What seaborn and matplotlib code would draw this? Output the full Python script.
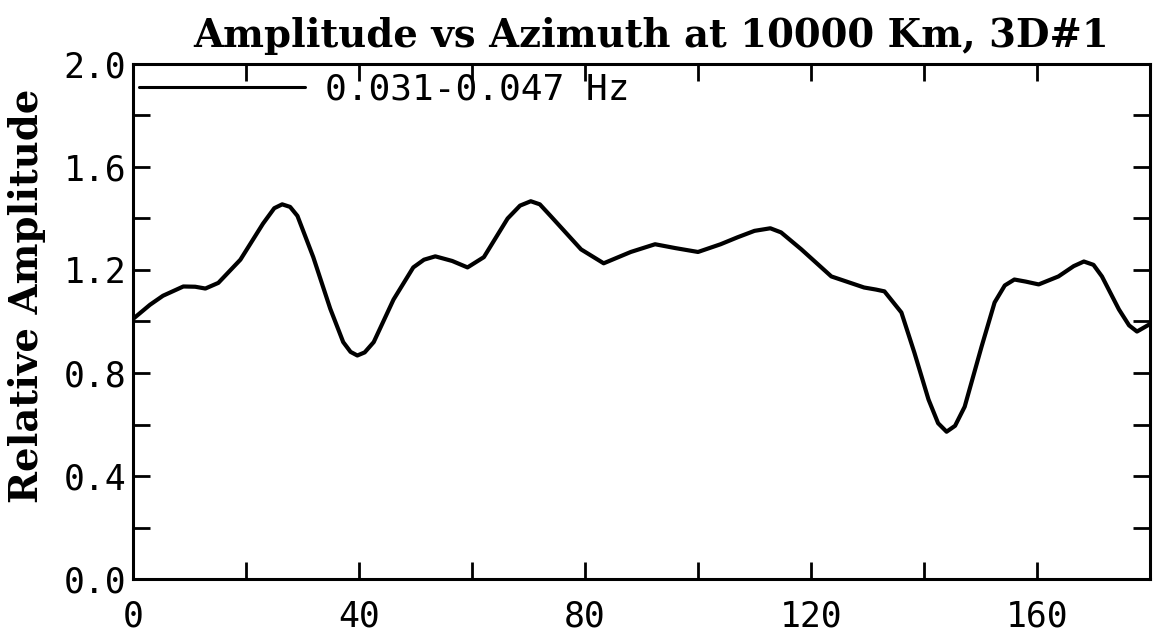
import matplotlib
matplotlib.use("Agg")
import matplotlib.pyplot as plt
from matplotlib.ticker import MultipleLocator
import seaborn as sns

# Azimuth (degrees) and relative amplitude along the curve
azimuth = [0, 3.0, 5.3, 8.9, 11.0, 12.8, 15.1, 19.0, 23.0, 25.0, 26.4, 27.8,
           29.1, 31.9, 34.9, 37.2, 38.5, 39.7, 41.0, 42.6, 46.1, 49.6, 51.5,
           53.5, 56.5, 59.2, 62.1, 66.3, 68.5, 70.4, 72.0, 73.9, 79.3, 83.3,
           88.1, 92.4, 96.0, 100.0, 104.0, 107.0, 110.0, 112.8, 114.7, 118.3,
           123.6, 129.4, 131.5, 133.0, 136.0, 138.3, 140.8, 142.5, 144.0,
           145.5, 147.2, 150.2, 152.5, 154.3, 156.0, 158.0, 160.3, 163.8,
           166.5, 168.3, 170.0, 171.5, 174.5, 176.3, 177.7, 180.0]
amplitude = [1.01, 1.065, 1.10, 1.136, 1.135, 1.128, 1.15, 1.24, 1.38, 1.44,
             1.455, 1.445, 1.41, 1.25, 1.05, 0.92, 0.882, 0.868, 0.88, 0.92,
             1.085, 1.21, 1.24, 1.253, 1.235, 1.21, 1.25, 1.40, 1.45, 1.467,
             1.455, 1.41, 1.28, 1.226, 1.27, 1.30, 1.285, 1.27, 1.30, 1.327,
             1.352, 1.362, 1.346, 1.28, 1.175, 1.132, 1.124, 1.117, 1.035,
             0.879, 0.697, 0.605, 0.572, 0.595, 0.669, 0.903, 1.074, 1.14,
             1.163, 1.155, 1.144, 1.175, 1.215, 1.233, 1.22, 1.175, 1.047,
             0.985, 0.961, 0.99]

band_label = "0.031-0.047 Hz"
title = "Amplitude vs Azimuth at 10000 Km, 3D#1"
y_label = "Relative Amplitude"
x_major = [0, 40, 80, 120, 160]
y_major = [0.0, 0.4, 0.8, 1.2, 1.6, 2.0]

sns.set_theme(style="ticks")
plt.rcParams["font.family"] = ["DejaVu Sans Mono", "DejaVu Sans"]
plt.rcParams["text.color"] = "black"
plt.rcParams["axes.labelcolor"] = "black"
plt.rcParams["xtick.color"] = "black"
plt.rcParams["ytick.color"] = "black"

serif_face = ["DejaVu Serif", "DejaVu Sans"]

fig = plt.figure(figsize=(11.63, 6.43), dpi=100)
ax = fig.add_axes([0.1144, 0.0995, 0.8744, 0.801])

sns.lineplot(x=azimuth, y=amplitude, ax=ax, color="black", linewidth=3.0,
             label=band_label, sort=False)

ax.set_xlim(0, 180)
ax.set_ylim(0, 2.0)
ax.set_xticks(x_major)
ax.set_xticklabels([str(v) for v in x_major])
ax.set_yticks(y_major)
ax.set_yticklabels([f"{v:.1f}" for v in y_major])
ax.xaxis.set_minor_locator(MultipleLocator(20))
ax.yaxis.set_minor_locator(MultipleLocator(0.2))

for side in ["left", "right", "top", "bottom"]:
    ax.spines[side].set_visible(True)
    ax.spines[side].set_linewidth(2.2)
    ax.spines[side].set_color("black")

ax.tick_params(which="both", direction="in", length=12, width=2.0,
               top=True, right=True, color="black", labelcolor="black")
ax.tick_params(axis="x", which="major", labelsize=25, pad=15)
ax.tick_params(axis="y", which="major", labelsize=25, pad=5)
ax.grid(False)
ax.set_facecolor("white")

ax.set_title(title, fontsize=27.8, family=serif_face, fontweight="bold",
             pad=12, x=0.509, color="black")
ax.set_ylabel(y_label, fontsize=27.8, family=serif_face, fontweight="bold",
              color="black")
ax.yaxis.set_label_coords(-0.086, 0.55)

leg = ax.legend(loc="upper left", bbox_to_anchor=(0.006, 0.984),
                frameon=False, borderaxespad=0, borderpad=0,
                handlelength=4.6, handletextpad=0.55,
                prop={"family": "DejaVu Sans Mono", "size": 26})
for line in leg.get_lines():
    line.set_linewidth(2.2)
for txt in leg.get_texts():
    txt.set_color("black")

fig.savefig("out.png", dpi=100, facecolor="white")
